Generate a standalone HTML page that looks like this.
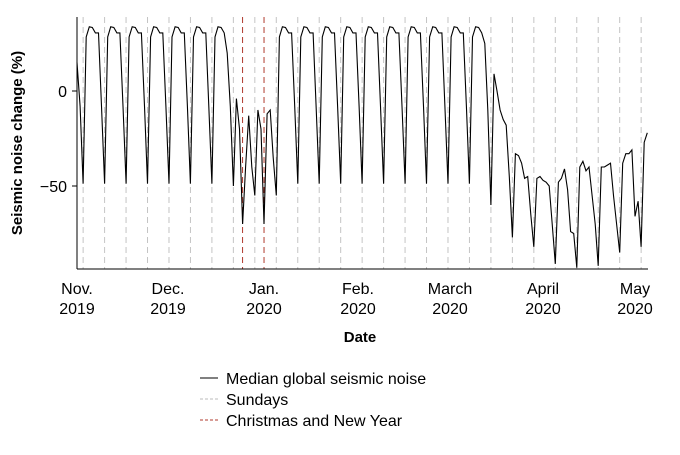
<!DOCTYPE html><html><head><style>body{margin:0;background:#fff}svg text{font-family:"Liberation Sans",sans-serif;fill:#000}</style></head><body>
<svg id="s" width="680" height="450" xmlns="http://www.w3.org/2000/svg">
<g id="g"></g>
<line x1="77" y1="17" x2="77" y2="269" stroke="#000" stroke-width="1"/>
<line x1="77" y1="269" x2="648" y2="269" stroke="#000" stroke-width="1"/>
<line x1="72" y1="91" x2="77" y2="91" stroke="#000"/><line x1="72" y1="186" x2="77" y2="186" stroke="#000"/>
<text x="67" y="97" font-size="16" text-anchor="end">0</text>
<text x="67" y="192" font-size="16" text-anchor="end">−50</text>
<text transform="translate(22,143) rotate(-90)" font-size="15" font-weight="bold" text-anchor="middle">Seismic noise change (%)</text>
<g font-size="16" text-anchor="middle">
<text x="77" y="294">Nov.</text><text x="77" y="314">2019</text>
<text x="168" y="294">Dec.</text><text x="168" y="314">2019</text>
<text x="264" y="294">Jan.</text><text x="264" y="314">2020</text>
<text x="358" y="294">Feb.</text><text x="358" y="314">2020</text>
<text x="450" y="294">March</text><text x="450" y="314">2020</text>
<text x="543" y="294">April</text><text x="543" y="314">2020</text>
<text x="635" y="294">May</text><text x="635" y="314">2020</text>
</g>
<text x="360" y="342" font-size="15" font-weight="bold" text-anchor="middle">Date</text>
<line x1="200" y1="378" x2="218" y2="378" stroke="#000"/>
<line x1="200" y1="399" x2="218" y2="399" stroke="#bbb" stroke-dasharray="3,2"/>
<line x1="200" y1="420" x2="218" y2="420" stroke="#b03a2e" stroke-dasharray="3,2"/>
<g font-size="16"><text x="226" y="384">Median global seismic noise</text><text x="226" y="405">Sundays</text><text x="226" y="426">Christmas and New Year</text></g>
</svg>
<script>
var X=d=>77+d*3.066,Y=v=>91-v*1.9,h='';
for(var d=2;d<=186;d+=7){if(d==54||d==61)continue;h+='<line x1="'+X(d)+'" y1="17" x2="'+X(d)+'" y2="269" stroke="#c4c4c4" stroke-dasharray="6,4"/>';}
[54,61].forEach(d=>h+='<line x1="'+X(d)+'" y1="17" x2="'+X(d)+'" y2="269" stroke="#b03a2e" stroke-dasharray="6,4"/>');
var wk=[-52,26,33,35,33,29,-8];var v=[];
for(d=0;d<=186;d++){var w=((d-2)%7+7)%7;var jit=[2,-2,3,0,-3,1,4][(d*3)%7];v.push(wk[w]+jit*0.8);}
var hol={49:20,50:-8,51:-50,52:-4,53:-20,54:-70,55:-40,56:-13,57:-40,58:-55,59:-10,60:-20,61:-70,62:-12,63:-10,64:-35,65:-55};
for(var k in hol)v[k]=hol[k];
v[0]=15;
var late=[[133,25],[134,-10],[135,-60],[136,9],[137,0],[138,-10],[139,-15],[140,-18],[141,-45],[142,-77],[143,-33],[144,-34],[145,-38],[146,-46],[147,-45],[148,-65],[149,-82],[150,-46],[151,-45],[152,-47],[153,-48],[154,-50],[155,-70],[156,-91],[157,-48],[158,-46],[159,-41],[160,-52],[161,-74],[162,-75],[163,-93],[164,-40],[165,-37],[166,-42],[167,-40],[168,-55],[169,-70],[170,-92],[171,-40],[172,-40],[173,-39],[174,-38],[175,-55],[176,-70],[177,-85],[178,-38],[179,-33],[180,-33],[181,-31],[182,-66],[183,-58],[184,-82],[185,-27],[186,-22]];
late.forEach(p=>v[p[0]]=p[1]);
var pts=v.map((y,i)=>X(i).toFixed(1)+','+Y(y).toFixed(1)).join(' ');
h+='<polyline points="'+pts+'" fill="none" stroke="#000" stroke-width="1.1"/>';
document.getElementById('g').innerHTML=h;
</script></body></html>
